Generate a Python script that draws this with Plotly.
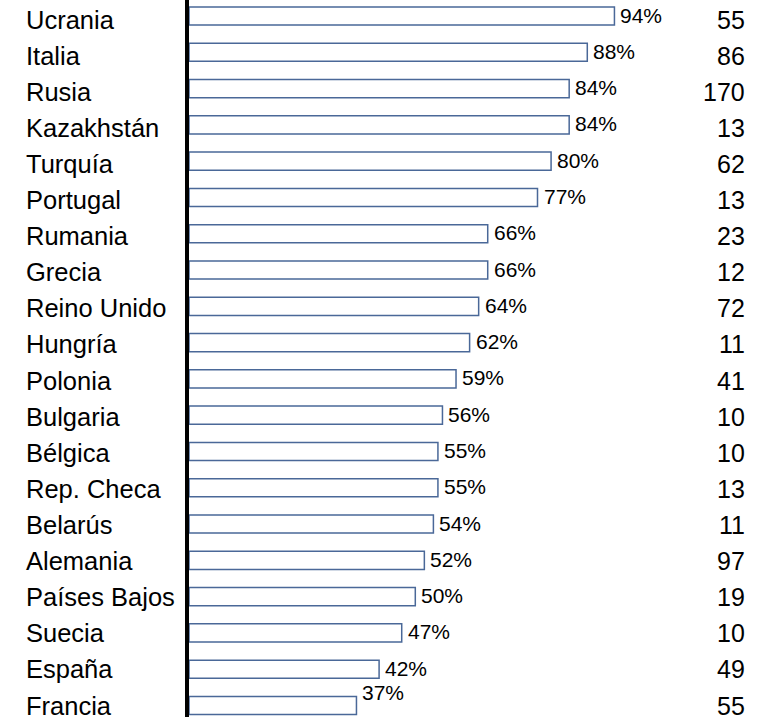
import plotly.graph_objects as go

countries = ["Ucrania", "Italia", "Rusia", "Kazakhstán", "Turquía", "Portugal",
             "Rumania", "Grecia", "Reino Unido", "Hungría", "Polonia", "Bulgaria",
             "Bélgica", "Rep. Checa", "Belarús", "Alemania", "Países Bajos",
             "Suecia", "España", "Francia"]
percent = [94, 88, 84, 84, 80, 77, 66, 66, 64, 62, 59, 56, 55, 55, 54, 52, 50, 47, 42, 37]
counts = [55, 86, 170, 13, 62, 13, 23, 12, 72, 11, 41, 10, 10, 13, 11, 97, 19, 10, 49, 55]

FONT = "Liberation Sans, Arial, sans-serif"
W, H = 769, 720
L, R, T, B = 189, 0, 0, 3
PW = W - L - R
PX_PER_UNIT = 4.526

fig = go.Figure()
fig.add_trace(go.Bar(
    x=percent, y=countries, orientation="h",
    marker=dict(color="white", line=dict(color="#4a6898", width=1.5)),
    width=0.5, hoverinfo="skip",
))

n_rows = len(countries)
annotations = []
for i, (c, p, n) in enumerate(zip(countries, percent, counts)):
    side_shift = -3.5 + 3.5 * i / (n_rows - 1)
    annotations.append(dict(
        x=(24 - L) / PW, xref="paper", y=c, yref="y", text=c,
        xanchor="left", yanchor="middle", showarrow=False, yshift=side_shift,
        font=dict(family=FONT, size=25.5, color="black")))
    annotations.append(dict(
        x=p, xref="x", y=c, yref="y", text=f"{p}%",
        xanchor="left", yanchor="middle", showarrow=False, xshift=4,
        yshift=13 if i == n_rows - 1 else 1,
        font=dict(family=FONT, size=21, color="black")))
    annotations.append(dict(
        x=(747 - L) / PW, xref="paper", y=c, yref="y", text=str(n),
        xanchor="right", yanchor="middle", showarrow=False, yshift=side_shift,
        font=dict(family=FONT, size=25, color="black")))

fig.update_layout(
    width=W, height=H,
    margin=dict(l=L, r=R, t=T, b=B),
    paper_bgcolor="white", plot_bgcolor="white",
    showlegend=False,
    annotations=annotations,
    xaxis=dict(range=[0, PW / PX_PER_UNIT], visible=False, fixedrange=True),
    yaxis=dict(type="category", categoryorder="array", categoryarray=countries,
               range=[19.317, -0.441], showticklabels=False, ticks="",
               showgrid=False, zeroline=False, showline=True,
               linecolor="black", linewidth=3.5, fixedrange=True),
)

fig.write_html(
    "out.html",
    config={"displayModeBar": False},
    post_script="document.body.style.margin='0';document.body.style.overflow='hidden';",
)
